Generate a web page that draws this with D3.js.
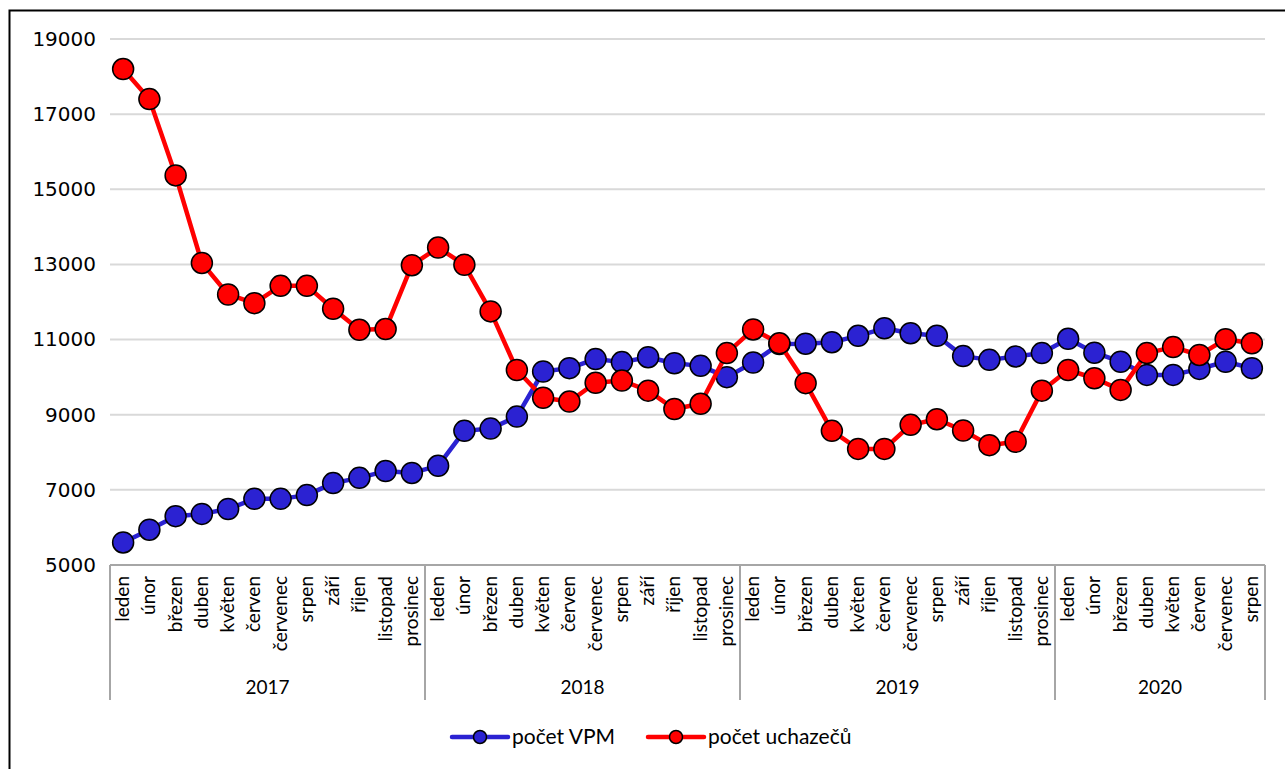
<!DOCTYPE html>
<html>
<head>
<meta charset="utf-8">
<script src="https://cdn.jsdelivr.net/npm/d3@7"></script>
<style>
  body { margin: 0; background: #fff; }
  svg { display: block; }
  .ytick { font-family: "DejaVu Sans", sans-serif; font-size: 20px; fill: #000; }
  .cat { font-family: Lato, "Open Sans", sans-serif; font-size: 19px; fill: #000; }
  .legend-text { font-family: Lato, "Open Sans", sans-serif; font-size: 21px; fill: #000; }
</style>
</head>
<body>
<svg id="chart" width="1285" height="769"></svg>
<script>
const years = ['2017', '2018', '2019', '2020'];
const monthNames = ['leden', 'únor', 'březen', 'duben', 'květen', 'červen',
  'červenec', 'srpen', 'září', 'říjen', 'listopad', 'prosinec'];
const monthsPerYear = [12, 12, 12, 8];

const vpm = [
  5600, 5940, 6300, 6360, 6490, 6760, 6760, 6860, 7180, 7320, 7500, 7450,
  7640, 8570, 8630, 8950, 10150, 10240, 10480, 10400, 10530, 10370, 10300, 10000,
  10390, 10880, 10890, 10930, 11100, 11300, 11170, 11100, 10560, 10460, 10550, 10640,
  11020, 10650, 10410, 10060, 10060, 10220, 10410, 10240
];

const uchazeci = [
  18200, 17400, 15370, 13040, 12200, 11970, 12430, 12430, 11820, 11260, 11280, 12980,
  13450, 12990, 11750, 10190, 9450, 9350, 9850, 9910, 9640, 9150, 9290, 10640,
  11270, 10900, 9840, 8570, 8090, 8090, 8730, 8880, 8580, 8190, 8280, 9640,
  10190, 9970, 9660, 10640, 10800, 10590, 11010, 10900
];

const yTicks = [5000, 7000, 9000, 11000, 13000, 15000, 17000, 19000];

// build category list: year + month
const categories = [];
years.forEach((yr, i) => {
  for (let m = 0; m < monthsPerYear[i]; m++) {
    categories.push({ key: `${yr}-${m}`, year: yr, month: monthNames[m] });
  }
});

const series = [
  { name: 'počet VPM', values: vpm, color: '#2B22D2' },
  { name: 'počet uchazečů', values: uchazeci, color: '#FF0000' },
];

const svg = d3.select('#chart');
const margin = { top: 39, left: 110 };
const width = 1265;
const plotBottom = 565;

// outer border
svg.append('rect')
  .attr('x', 9.5).attr('y', 10.5)
  .attr('width', 1300).attr('height', 800)
  .attr('fill', 'none').attr('stroke', '#000').attr('stroke-width', 2);

const x = d3.scaleBand()
  .domain(categories.map((d) => d.key))
  .range([margin.left, width]);

const y = d3.scaleLinear()
  .domain([5000, 19000])
  .range([plotBottom, margin.top]);

// gridlines
svg.append('g')
  .selectAll('line')
  .data(yTicks.slice(1))
  .join('line')
  .attr('x1', margin.left).attr('x2', width)
  .attr('y1', (d) => y(d)).attr('y2', (d) => y(d))
  .attr('stroke', '#D9D9D9').attr('stroke-width', 2);

// y axis labels
const yAxis = d3.axisLeft(y).tickValues(yTicks).tickSize(0).tickPadding(14).tickFormat(d3.format('d'));
const yg = svg.append('g')
  .attr('transform', `translate(${margin.left},0)`)
  .call(yAxis)
  .attr('font-family', null).attr('font-size', null);
yg.select('.domain').remove();
yg.selectAll('text').attr('class', 'ytick').attr('fill', null);

// category axis
const catAxis = svg.append('g');
catAxis.append('line')
  .attr('x1', margin.left).attr('x2', width)
  .attr('y1', plotBottom).attr('y2', plotBottom)
  .attr('stroke', '#A6A6A6').attr('stroke-width', 2);

// year group boundaries
let start = 0;
const groups = years.map((yr, i) => {
  const g = { year: yr, first: categories[start].key, last: categories[start + monthsPerYear[i] - 1].key };
  start += monthsPerYear[i];
  return g;
});
const bounds = [x(groups[0].first), ...groups.map((g) => x(g.last) + x.bandwidth())];

catAxis.selectAll('line.div')
  .data(bounds)
  .join('line')
  .attr('class', 'div')
  .attr('x1', (d) => d).attr('x2', (d) => d)
  .attr('y1', plotBottom).attr('y2', 700)
  .attr('stroke', '#A6A6A6').attr('stroke-width', 2);

catAxis.selectAll('text.month')
  .data(categories)
  .join('text')
  .attr('class', 'cat month')
  .attr('text-anchor', 'end')
  .attr('transform', (d) => `translate(${x(d.key) + x.bandwidth() / 2 + 6},${plotBottom + 11}) rotate(-90)`)
  .text((d) => d.month);

catAxis.selectAll('text.year')
  .data(groups)
  .join('text')
  .attr('class', 'cat year')
  .attr('text-anchor', 'middle')
  .attr('x', (d) => (x(d.first) + x(d.last) + x.bandwidth()) / 2)
  .attr('y', 694)
  .text((d) => d.year);

// series
const line = d3.line()
  .x((d, i) => x(categories[i].key) + x.bandwidth() / 2)
  .y((d) => y(d));

series.forEach((s) => {
  const g = svg.append('g');
  g.append('path')
    .attr('d', line(s.values))
    .attr('fill', 'none')
    .attr('stroke', s.color)
    .attr('stroke-width', 4.5)
    .attr('stroke-linejoin', 'round');
  g.selectAll('circle')
    .data(s.values)
    .join('circle')
    .attr('cx', (d, i) => x(categories[i].key) + x.bandwidth() / 2)
    .attr('cy', (d) => y(d))
    .attr('r', 10.5)
    .attr('fill', s.color)
    .attr('stroke', '#000')
    .attr('stroke-width', 1.5);
});

// legend
const legendItems = [
  { s: series[0], x0: 452 },
  { s: series[1], x0: 648 },
];
const legend = svg.append('g');
legendItems.forEach(({ s, x0 }) => {
  const item = legend.append('g').attr('transform', `translate(${x0},737)`);
  item.append('line')
    .attr('x1', 0).attr('x2', 56)
    .attr('stroke', s.color).attr('stroke-width', 4.5).attr('stroke-linecap', 'round');
  item.append('circle')
    .attr('cx', 28).attr('r', 6.5)
    .attr('fill', s.color).attr('stroke', '#000').attr('stroke-width', 1.5);
  item.append('text')
    .attr('class', 'legend-text')
    .attr('x', 60).attr('y', 7)
    .text(s.name);
});
</script>
</body>
</html>
